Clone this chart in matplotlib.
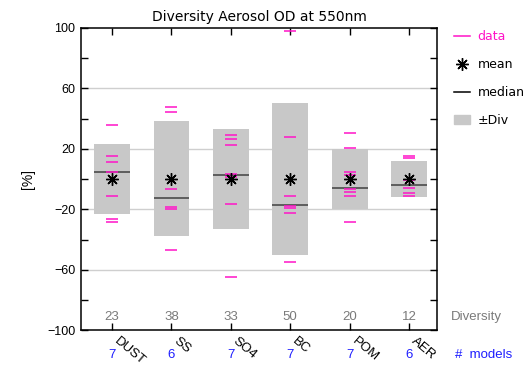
import matplotlib
matplotlib.use("Agg")
import matplotlib.pyplot as plt
from matplotlib.lines import Line2D
from matplotlib.patches import Patch
import matplotlib.transforms as mtransforms

# aerosol components and per-component statistics (percent deviation)
components = ["DUST", "SS", "SO4", "BC", "POM", "AER"]
diversity = [23, 38, 33, 50, 20, 12]
n_models = [7, 6, 7, 7, 7, 6]
means = [0.2, 0.2, 0.2, 0.2, 0.2, 0.3]
medians = [4.8, -12.4, 3.0, -16.8, -5.8, -3.6]

# individual model values
data_dust = [35.9, 15.4, 11.2, 4.6, -11.3, -26.5, -28.3]
data_ss = [47.8, 44.3, -6.6, -18.1, -19.7, -46.8]
data_so4 = [29.1, 26.6, 22.6, 3.3, 1.5, -16.6, -64.6]
data_bc = [98.0, 27.7, -11.3, -17.4, -19.3, -22.5, -54.5]
data_pom = [30.4, 20.5, 4.6, 2.6, -6.5, -8.7, -10.9, -28.5]
data_aer = [15.2, 14.0, -0.6, -6.0, -9.0, -10.8]
model_data = [data_dust, data_ss, data_so4, data_bc, data_pom, data_aer]

yticks = [100, 60, 20, -20, -60, -100]

MAGENTA = "#ff14c8"
BLUE = "#1e1eff"
GREY_TXT = "#7a7a7a"
BOX = "#c8c8c8"

fig = plt.figure(figsize=(5.26, 3.68), dpi=100)
ax = fig.add_axes([0.154, 0.102, 0.677, 0.822])

xs = list(range(1, len(components) + 1))

for y in yticks[1:-1]:
    ax.axhline(y, color="#cfcfcf", lw=1.0, zorder=0)

# +-diversity boxes around the mean
ax.bar(xs, [2 * d for d in diversity], bottom=[m - d for m, d in zip(means, diversity)],
       width=0.6, color=BOX, zorder=1)

for x, vals in zip(xs, model_data):
    ax.hlines(vals, x - 0.1, x + 0.1, colors=MAGENTA, lw=1.1, zorder=3)

ax.hlines(medians, [x - 0.3 for x in xs], [x + 0.3 for x in xs], colors="#404040", lw=1.1, zorder=2)
ax.plot(xs, means, ls="none", marker=(8, 2, 0), ms=9, mew=1.0, color="black", zorder=4)

ax.set_xlim(0.48, 6.47)
ax.set_ylim(-100, 100)
ax.set_yticks(yticks)
ax.set_yticks([80, 40, 0, -40, -80], minor=True)
ax.set_xticks(xs)
ax.set_xticklabels([])
ax.tick_params(axis="both", which="both", direction="in", length=5, width=1,
               top=True, right=True, labelsize=9)
ax.tick_params(axis="y", which="major", pad=4)
for lab in ax.get_yticklabels():
    lab.set_fontfamily("Liberation Sans")
for s in ax.spines.values():
    s.set_linewidth(1.1)

ax.set_ylabel("[%]", fontfamily="Liberation Sans", fontsize=10, labelpad=9)
ax.set_title("Diversity Aerosol OD at 550nm", fontsize=10, pad=5)

# diversity values near the bottom of the panel
for x, d in zip(xs, diversity):
    ax.text(x, -91, str(d), ha="center", va="center", color=GREY_TXT,
            fontfamily="Liberation Sans", fontsize=9.5)
ax.text(1.04, -91, "Diversity", transform=mtransforms.blended_transform_factory(ax.transAxes, ax.transData),
        ha="left", va="center", color=GREY_TXT, fontfamily="Liberation Sans", fontsize=9.5)

# rotated component names and model counts below the axis
trans = mtransforms.blended_transform_factory(ax.transData, ax.transAxes)
for x, name, n in zip(xs, components, n_models):
    ax.text(x + 0.13, -0.015, name, transform=trans, rotation=-40, rotation_mode="anchor",
            ha="left", va="top", fontfamily="Liberation Sans", fontsize=9.5)
    ax.text(x, -0.082, str(n), transform=trans, ha="center", va="center", color=BLUE,
            fontfamily="Liberation Sans", fontsize=9.5)
ax.text(1.05, -0.082, "#  models", transform=ax.transAxes, ha="left", va="center",
        color=BLUE, fontfamily="Liberation Sans", fontsize=9.5)

handles = [
    Line2D([], [], color=MAGENTA, lw=1.1),
    Line2D([], [], ls="none", marker=(8, 2, 0), ms=9, mew=1.0, color="black"),
    Line2D([], [], color="black", lw=1.1),
    Patch(color=BOX),
]
ax.legend(handles, ["data", "mean", "median", "\u00b1Div"], loc="upper left",
          bbox_to_anchor=(1.015, 1.03), frameon=False, fontsize=9, handlelength=1.3,
          handletextpad=0.6, labelspacing=1.2, labelcolor=[MAGENTA, "black", "black", "black"])

plt.savefig("out.png", dpi=100)
